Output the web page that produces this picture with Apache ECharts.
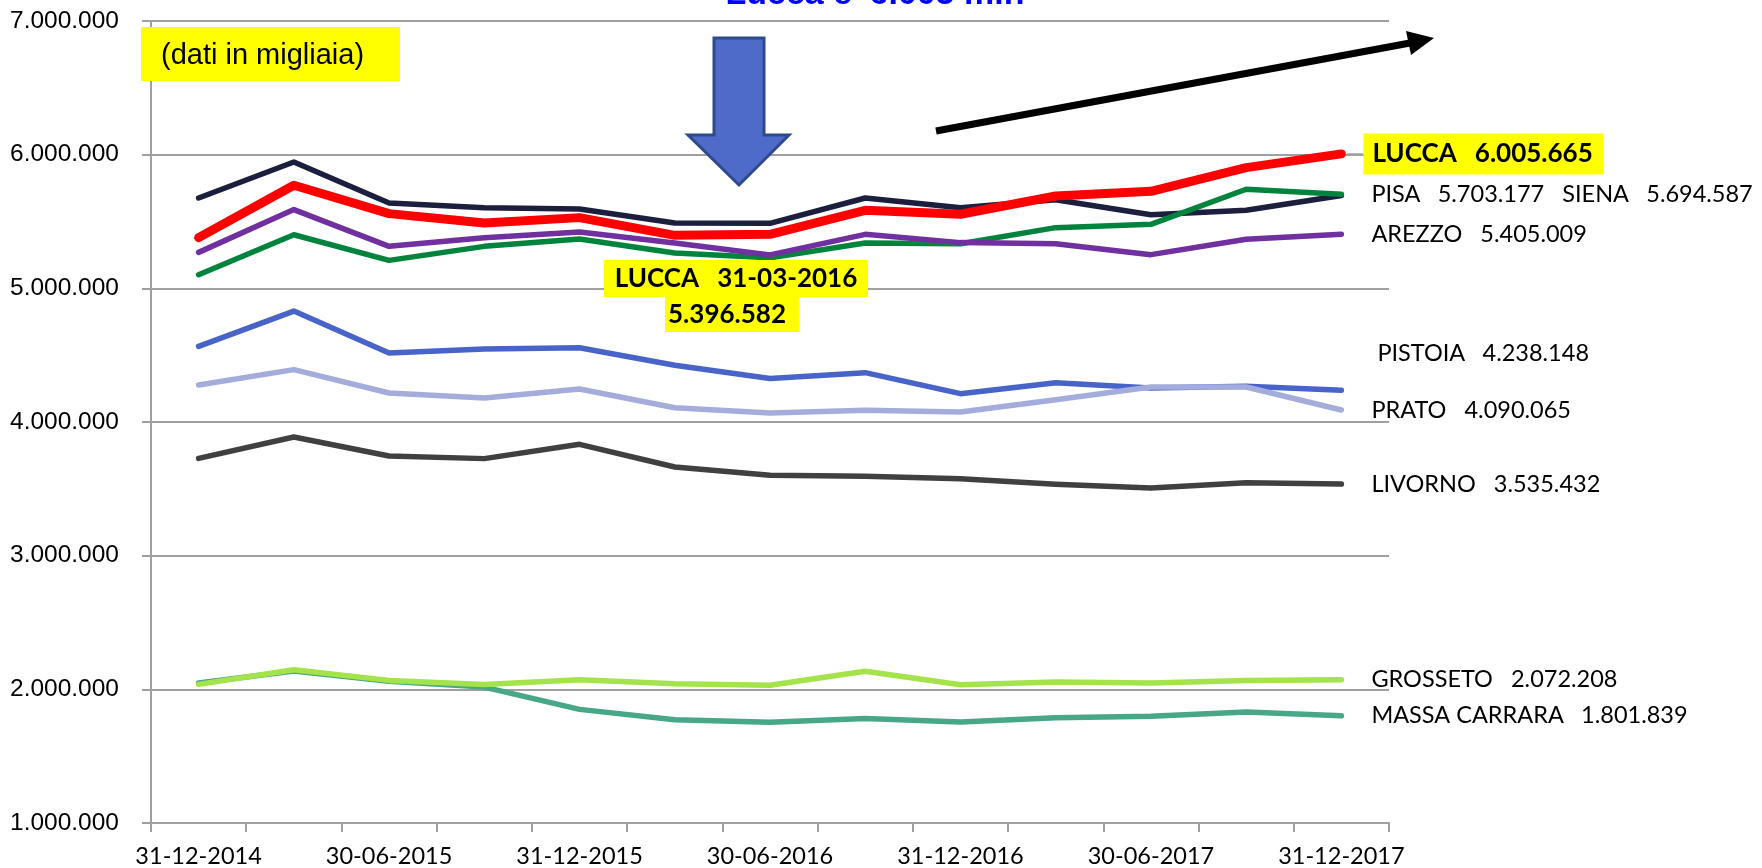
<!DOCTYPE html>
<html><head><meta charset="utf-8">
<script src="https://cdn.jsdelivr.net/npm/echarts@6/dist/echarts.min.js"></script>
<style>html,body{margin:0;padding:0;background:#fff}#c{width:1762px;height:868px}</style>
</head><body><div id="c"></div>
<script>
const categories = ['31-12-2014','31-03-2015','30-06-2015','30-09-2015','31-12-2015','31-03-2016','30-06-2016','30-09-2016','31-12-2016','31-03-2017','30-06-2017','30-09-2017','31-12-2017'];
const yTicks = [1000000, 2000000, 3000000, 4000000, 5000000, 6000000, 7000000];

const siena    = [5676000,5945000,5638000,5603000,5594000,5489000,5486000,5676000,5603000,5663000,5551000,5584000,5694587];
const pisa     = [5102000,5401000,5209000,5314000,5369000,5264000,5228000,5339000,5334000,5454000,5479000,5741000,5703177];
const arezzo   = [5269000,5589000,5314000,5379000,5421000,5339000,5250000,5404000,5342000,5334000,5252000,5367000,5405009];
const pistoia  = [4566000,4830000,4516000,4546000,4556000,4424000,4326000,4369000,4212000,4294000,4254000,4267000,4238148];
const prato    = [4277000,4392000,4217000,4180000,4247000,4107000,4068000,4087000,4075000,4167000,4262000,4262000,4090065];
const livorno  = [3728000,3888000,3746000,3726000,3833000,3663000,3601000,3594000,3576000,3534000,3506000,3546000,3535432];
const massa    = [2047000,2137000,2060000,2017000,1850000,1773000,1753000,1781000,1756000,1788000,1798000,1830000,1801839];
const grosseto = [2037000,2147000,2067000,2037000,2072000,2042000,2030000,2135000,2035000,2055000,2047000,2067000,2072208];
const lucca    = [5379000,5771000,5559000,5489000,5529000,5396582,5404000,5584000,5554000,5691000,5726000,5903000,6005665];

const fmt = v => String(Math.round(v)).replace(/\B(?=(\d{3})+(?!\d))/g, '.');
const last = a => a[a.length - 1];
const SP = '\u00a0\u00a0\u00a0';

const chart = echarts.init(document.getElementById('c'), null, {renderer: 'canvas'});
const FONT = 'Lato, "Noto Sans", sans-serif';

function mk(name, data, color, width, label, extra) {
  return Object.assign({
    type: 'line', name, data, symbol: 'none', animation: false,
    lineStyle: {color, width, cap: 'round', join: 'round'},
    itemStyle: {color},
    endLabel: label ? Object.assign({
      show: true, formatter: label, distance: 30, color: '#000',
      fontSize: 23.5, fontFamily: FONT
    }, extra || {}) : {show: false}
  });
}

const series = [
  mk('SIENA', siena, '#1b1e3c', 5.5, null),
  mk('PISA', pisa, '#00843d', 5.5, 'PISA' + SP + fmt(last(pisa)) + SP + 'SIENA' + SP + fmt(last(siena))),
  mk('AREZZO', arezzo, '#7030a0', 5.5, 'AREZZO' + SP + fmt(last(arezzo))),
  mk('PISTOIA', pistoia, '#4864c9', 5.5, 'PISTOIA' + SP + fmt(last(pistoia)), {offset: [6, -37]}),
  mk('PRATO', prato, '#a4acdc', 5.5, 'PRATO' + SP + fmt(last(prato))),
  mk('LIVORNO', livorno, '#404040', 5.5, 'LIVORNO' + SP + fmt(last(livorno))),
  mk('MASSA CARRARA', massa, '#47a786', 5.5, 'MASSA CARRARA' + SP + fmt(last(massa))),
  mk('GROSSETO', grosseto, '#a4e34a', 5.5, 'GROSSETO' + SP + fmt(last(grosseto))),
  mk('LUCCA', lucca, '#ff0000', 9, 'LUCCA' + SP + fmt(last(lucca)),
     {distance: 22, backgroundColor: '#ffff00', padding: [8, 11, 7, 9], fontWeight: 'bold', fontSize: 26})
];

chart.setOption({
  animation: false,
  backgroundColor: '#fff',
  grid: {left: 151, right: 373, top: 21, bottom: 45, containLabel: false},
  xAxis: {
    type: 'category', data: categories, boundaryGap: true,
    axisLine: {lineStyle: {color: '#a0a0a0', width: 2}},
    axisTick: {show: true, interval: 0, length: 9, lineStyle: {color: '#a0a0a0', width: 2}},
    axisLabel: {interval: 1, margin: 21, color: '#000', fontSize: 23.5, fontFamily: FONT},
    splitLine: {show: false}
  },
  yAxis: {
    type: 'value', min: yTicks[0], max: yTicks[yTicks.length - 1], interval: 1000000,
    axisLine: {show: true, lineStyle: {color: '#a0a0a0', width: 2}},
    axisTick: {show: true, length: 9, lineStyle: {color: '#a0a0a0', width: 2}},
    axisLabel: {margin: 32, color: '#000', fontSize: 24.5, fontFamily: '"Liberation Sans", Arial, sans-serif', formatter: v => fmt(v)},
    splitLine: {show: true, lineStyle: {color: '#a0a0a0', width: 2}}
  },
  series,
  graphic: [
    {type: 'text', x: 875, y: -5, z: 100, style: {text: "Lucca e' 6.005 mln", fill: '#0000ff', font: 'bold 34px "Liberation Sans", Arial, sans-serif', textAlign: 'center', textVerticalAlign: 'middle'}},
    {type: 'rect', shape: {x: 141, y: 27, width: 259, height: 54}, style: {fill: '#ffff00'}, z: 100},
    {type: 'text', x: 161, y: 56, z: 101, style: {text: '(dati in migliaia)', fill: '#000', font: '29px "Liberation Sans", Arial, sans-serif', textVerticalAlign: 'middle'}},
    {type: 'polygon', z: 100, shape: {points: [[714, 38], [764, 38], [764, 135], [789, 135], [739, 185], [688, 135], [714, 135]]}, style: {fill: '#4f6bc9', stroke: '#2e4a8c', lineWidth: 3}},
    {type: 'line', z: 100, shape: {x1: 936, y1: 131, x2: 1410, y2: 43}, style: {stroke: '#000', lineWidth: 7}},
    {type: 'polygon', z: 100, shape: {points: [[1434, 38], [1406, 31], [1411, 55]]}, style: {fill: '#000'}},
    {type: 'line', z: 90, shape: {x1: 1347, y1: 154, x2: 1363, y2: 154}, style: {stroke: '#a0a0a0', lineWidth: 1.5}},
    {type: 'rect', z: 100, shape: {x: 604, y: 260, width: 264, height: 37}, style: {fill: '#ffff00'}},
    {type: 'rect', z: 100, shape: {x: 665, y: 297, width: 134, height: 35}, style: {fill: '#ffff00'}},
    {type: 'text', x: 736, y: 279, z: 101, style: {text: 'LUCCA' + SP + '31-03-2016', fill: '#000', font: 'bold 26px Lato, sans-serif', textAlign: 'center', textVerticalAlign: 'middle'}},
    {type: 'text', x: 727, y: 315, z: 101, style: {text: fmt(lucca[5]), fill: '#000', font: 'bold 26px Lato, sans-serif', textAlign: 'center', textVerticalAlign: 'middle'}}
  ]
});
</script></body></html>
